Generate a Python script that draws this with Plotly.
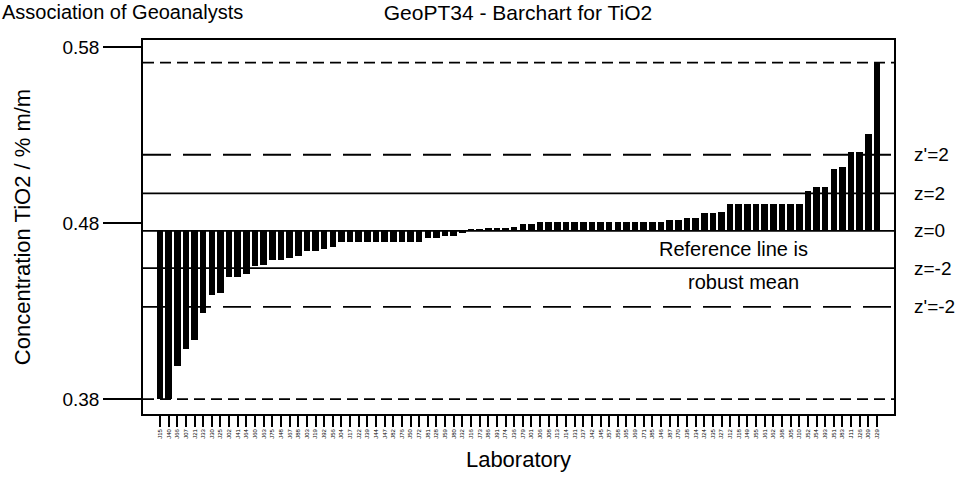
import plotly.graph_objects as go

# Laboratory codes, ordered by reported value
labs = [
    "J15", "J40", "J66", "J07", "J21", "J33", "J30", "J25", "J02", "J41",
    "J64", "J60", "J63", "J75", "J48", "J67", "J88", "J03", "J19", "J92",
    "J56", "J04", "J17", "J22", "J39", "J44", "J47", "J82", "J76", "J50",
    "J72", "J81", "J28", "J59", "J80", "J32", "J16", "J73", "J86", "J91",
    "J74", "J36", "J79", "J01", "J06", "J08", "J13", "J14", "J31", "J37",
    "J42", "J45", "J57", "J58", "J65", "J69", "J71", "J85", "J46", "J87",
    "J70", "J38", "J34", "J24", "J35", "J27", "J12", "J18", "J49", "J55",
    "J61", "J62", "J68", "J05", "J10", "J52", "J54", "J93", "J51", "J83",
    "J11", "J26", "J09", "J29",
]

# Reported TiO2 concentrations, % m/m
tio2 = [
    0.3800, 0.3800, 0.3987, 0.4086, 0.4137, 0.4290, 0.4389, 0.4402, 0.4491, 0.4491,
    0.4512, 0.4554, 0.4563, 0.4592, 0.4592, 0.4601, 0.4611, 0.4643, 0.4643, 0.4652,
    0.4664, 0.4690, 0.4690, 0.4690, 0.4690, 0.4690, 0.4690, 0.4690, 0.4690, 0.4690,
    0.4690, 0.4713, 0.4713, 0.4726, 0.4726, 0.4741, 0.4762, 0.4765, 0.4772, 0.4772,
    0.4772, 0.4779, 0.4793, 0.4793, 0.4804, 0.4804, 0.4804, 0.4804, 0.4804, 0.4804,
    0.4804, 0.4804, 0.4804, 0.4804, 0.4804, 0.4804, 0.4804, 0.4804, 0.4804, 0.4817,
    0.4820, 0.4827, 0.4830, 0.4855, 0.4859, 0.4864, 0.4906, 0.4906, 0.4906, 0.4906,
    0.4906, 0.4906, 0.4906, 0.4906, 0.4906, 0.4982, 0.5006, 0.5006, 0.5105, 0.5116,
    0.5205, 0.5205, 0.5307, 0.5711,
]

# Assigned value (robust mean) and target standard deviations
assigned = 0.4756
sigma_z = 0.0106
sigma_zp = 0.0216

y_ticks = [0.38, 0.48, 0.58]

FONT = "Liberation Sans, Arial, Helvetica, sans-serif"
LABEL_SIZE = 19
xs = list(range(len(labs)))

fig = go.Figure()
fig.add_trace(go.Bar(
    x=xs,
    y=[v - assigned for v in tio2],
    base=assigned,
    width=0.76,
    marker=dict(color="black", line=dict(width=0)),
    hoverinfo="skip",
))

# Horizontal reference lines: (value, dash, label)
ref_lines = [
    (assigned + 2 * sigma_zp, "28px,12px", "z'=2"),
    (assigned + 2 * sigma_z, "solid", "z=2"),
    (assigned, "solid", "z=0"),
    (assigned - 2 * sigma_z, "solid", "z=-2"),
    (assigned - 2 * sigma_zp, "28px,12px", "z'=-2"),
    (max(tio2), "11px,6px", None),
    (min(tio2), "11px,6px", None),
]
for val, dash, label in ref_lines:
    fig.add_shape(type="line", xref="paper", yref="y", x0=0, x1=1, y0=val, y1=val,
                  line=dict(color="black", width=1.8, dash=dash), layer="below")
    if label:
        fig.add_annotation(xref="paper", yref="y", x=1.024, y=val, text=label,
                           showarrow=False, xanchor="left", yanchor="middle",
                           font=dict(size=LABEL_SIZE, color="black", family=FONT))

# Note on the reference line
fig.add_annotation(xref="x", yref="y", x=66.4, y=(assigned + assigned - 2 * sigma_z) / 2 + 0.0005,
                   text="Reference line is", showarrow=False,
                   font=dict(size=20, color="black", family=FONT))
fig.add_annotation(xref="x", yref="y", x=67.5, y=assigned - 2 * sigma_z - 0.0080,
                   text="robust mean", showarrow=False,
                   font=dict(size=20, color="black", family=FONT))

# Organisation name in the top-left corner
fig.add_annotation(xref="paper", yref="paper", x=-0.19, y=1.0, yshift=28,
                   text="Association of Geoanalysts", showarrow=False,
                   xanchor="left", yanchor="middle",
                   font=dict(size=20, color="black", family=FONT))

fig.update_layout(
    width=978, height=477,
    margin=dict(l=143, r=84, t=40, b=63),
    paper_bgcolor="white", plot_bgcolor="white",
    showlegend=False,
    font=dict(family=FONT, color="black"),
    title=dict(text="GeoPT34 - Barchart for TiO2", x=0.5296, xanchor="center",
               y=0.973, yanchor="middle", font=dict(size=21, color="black", family=FONT)),
    bargap=0,
)

fig.update_xaxes(
    range=[-1.97, len(labs) - 1 + 1.97],
    tickmode="array", tickvals=xs, ticktext=labs,
    tickangle=-90, tickfont=dict(size=6, family=FONT),
    ticks="outside", ticklen=11, tickwidth=1.5, tickcolor="black",
    showline=True, linecolor="black", linewidth=1.5, mirror=True,
    showgrid=False, zeroline=False, automargin=False,
    title=dict(text="Laboratory", font=dict(size=22, family=FONT), standoff=14),
)
fig.update_yaxes(
    range=[0.3715, 0.584],
    tickmode="array", tickvals=y_ticks, ticktext=[f"{t:.2f}" for t in y_ticks],
    tickfont=dict(size=LABEL_SIZE, family=FONT),
    ticks="outside", ticklen=38, tickwidth=1.5, tickcolor="black",
    showline=True, linecolor="black", linewidth=1.5, mirror=True,
    showgrid=False, zeroline=False, automargin=False,
    title=dict(text="Concentration TiO2 / % m/m", font=dict(size=22, family=FONT), standoff=26),
)

fig.write_html("out.html")
